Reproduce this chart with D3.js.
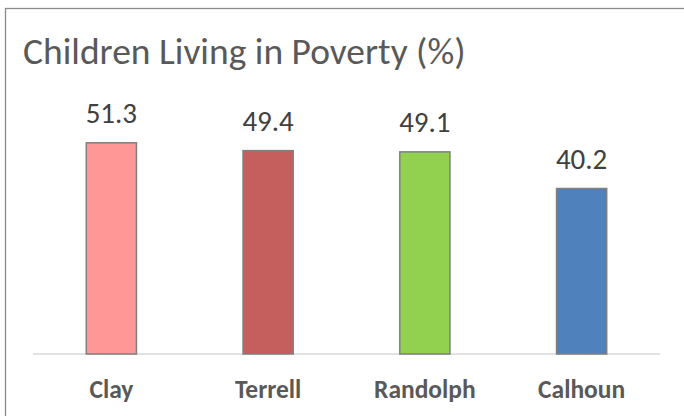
<!DOCTYPE html>
<html>
<head>
<meta charset="utf-8">
<script src="https://cdn.jsdelivr.net/npm/d3@7"></script>
<style>
  html, body { margin: 0; padding: 0; background: #fff; }
  svg { display: block; }
  text { font-family: Carlito, Calibri, Lato, "Open Sans", sans-serif; }
</style>
</head>
<body>
<svg id="chart" width="684" height="416"></svg>
<script>
const categories = ["Clay", "Terrell", "Randolph", "Calhoun"];
const values = [51.3, 49.4, 49.1, 40.2];
const barColors = ["#FF9797", "#C55F5E", "#92D050", "#4F81BD"];
const chartTitle = "Children Living in Poverty (%)";

const W = 684, H = 416;
const svg = d3.select("#chart");

svg.append("rect").attr("width", W).attr("height", H).attr("fill", "#fff");
// chart frame (extends beyond the picture on right and bottom)
svg.append("rect")
  .attr("x", 5.5).attr("y", 8.5)
  .attr("width", W + 20).attr("height", H + 20)
  .attr("fill", "none").attr("stroke", "#8A8A8A").attr("stroke-width", 1.3);

const x = d3.scaleBand().domain(categories).range([33, 660])
  .paddingInner(0.68).paddingOuter(0.34);
const y = d3.scaleLinear().domain([0, 60]).range([354, 107]);

// title
svg.append("text")
  .attr("x", 23).attr("y", 64)
  .attr("fill", "#595959")
  .attr("font-size", 37.5)
  .text(chartTitle);

// baseline
svg.append("line")
  .attr("x1", 33).attr("x2", 660)
  .attr("y1", y(0)).attr("y2", y(0))
  .attr("stroke", "#D9D9D9").attr("stroke-width", 1.5);

// bars
svg.selectAll("rect.bar")
  .data(categories)
  .join("rect")
  .attr("class", "bar")
  .attr("x", d => x(d))
  .attr("y", (d, i) => y(values[i]))
  .attr("width", x.bandwidth())
  .attr("height", (d, i) => y(0) - y(values[i]))
  .attr("fill", (d, i) => barColors[i])
  .attr("stroke", "#7F7F7F")
  .attr("stroke-width", 1.5);

// value labels
svg.selectAll("text.val")
  .data(categories)
  .join("text")
  .attr("class", "val")
  .attr("x", d => x(d) + x.bandwidth() / 2)
  .attr("y", (d, i) => y(values[i]) - 19.5)
  .attr("text-anchor", "middle")
  .attr("fill", "#404040")
  .attr("font-size", 29)
  .text((d, i) => values[i].toFixed(1));

// category axis labels
const xAxis = d3.axisBottom(x).tickSize(0).tickPadding(0);
const gx = svg.append("g").attr("transform", `translate(0,${y(0)})`).call(xAxis);
gx.select(".domain").remove();
gx.selectAll("text")
  .attr("dy", null)
  .attr("y", 44)
  .attr("fill", "#595959")
  .attr("font-size", 25.5)
  .attr("font-weight", "bold")
  .style("font-family", "Carlito, Calibri, Lato, 'Open Sans', sans-serif");
</script>
</body>
</html>
